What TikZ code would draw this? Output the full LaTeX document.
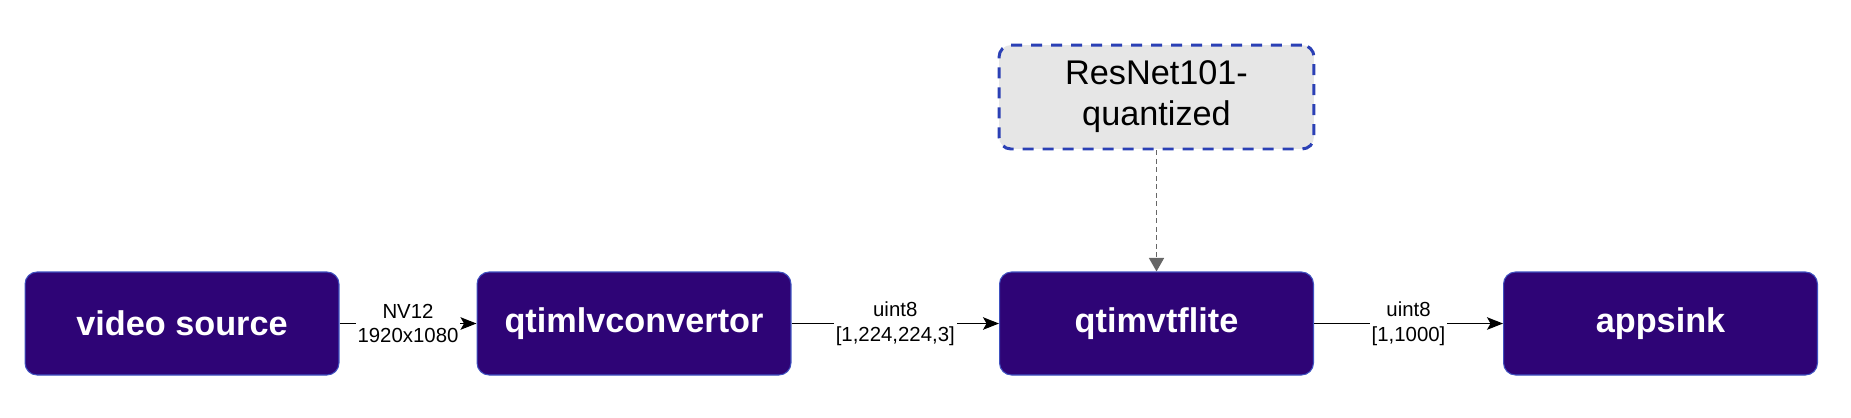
\documentclass[tikz,border=0pt]{standalone}
\usepackage{fontspec}
\setmainfont{Liberation Sans}
\usetikzlibrary{arrows.meta}
\definecolor{stagefill}{HTML}{2E0476}
\definecolor{stageline}{HTML}{3F51C0}
\definecolor{modelline}{HTML}{2B40B5}
\definecolor{modelfill}{HTML}{E6E6E6}
\definecolor{hintgray}{HTML}{666666}
\tikzset{
  stage/.style={draw=stageline, fill=stagefill, line width=0.6pt, rounded corners=0.24cm,
    minimum width=6.28cm, minimum height=2.06cm, inner sep=0pt,
    text=white, font=\fontsize{19.5}{23.4}\selectfont\bfseries},
  model/.style={draw=modelline, fill=modelfill, line width=1.7pt, dash pattern=on 0.22cm off 0.18cm,
    rounded corners=0.24cm, minimum width=6.3cm, minimum height=2.08cm, inner sep=0pt,
    align=center, font=\fontsize{19.5}{23.4}\selectfont},
  flow/.style={line width=0.85pt, -{Stealth[length=0.32cm, width=0.25cm, inset=0.07cm]}},
  caps/.style={fill=white, inner sep=1pt, align=center, font=\fontsize{11.6}{14}\selectfont},
}
\begin{document}
\begin{tikzpicture}[x=0.02cm, y=-0.02cm]

    % 1. Fix the canvas to the reference size
    \useasboundingbox (0,0) rectangle (1851,417);

    % 2. Pipeline stages
    \node[stage] (src)  at (182,323.5)    {video source};
    \node[stage] (conv) at (634,323.5)    {qtimlvconvertor};
    \node[stage] (tfl)  at (1156.5,323.5) {qtimvtflite};
    \node[stage] (sink) at (1660.5,323.5) {appsink};

    % 3. Model box above the inference stage
    \node[model] (net) at (1156.5,97) {ResNet101-\\quantized};

    % 4. Data flow with caps on each link
    \draw[flow] (src)  -- (conv) node[caps, midway] {NV12\\1920x1080};
    \draw[flow] (conv) -- (tfl)  node[caps, midway] {uint8\\{[}1,224,224,3{]}};
    \draw[flow] (tfl)  -- (sink) node[caps, midway] {uint8\\{[}1,1000{]}};

    % 5. Model feeds the inference stage
    \draw[hintgray, line width=0.85pt, dash pattern=on 0.1cm off 0.07cm,
          -{Triangle[length=0.27cm, width=0.3cm]}] (net) -- (tfl);

\end{tikzpicture}
\end{document}
